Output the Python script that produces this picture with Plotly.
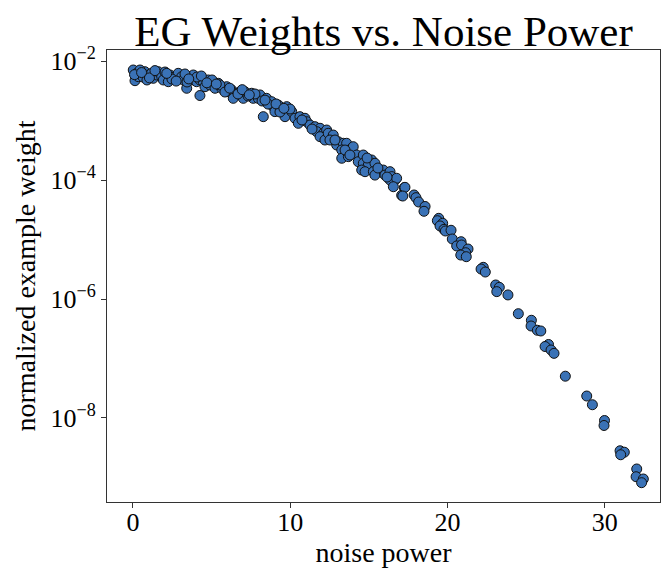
import plotly.graph_objects as go

# noise power (x) and normalized example weight (y)
noise_power = [
    0.02, 0.24, 0.13, 0.34, 0.76, 0.97, 1.19, 1.29, 1.51, 1.61,
    1.83, 1.93, 2.25, 2.35, 2.67, 2.88, 3.10, 3.20, 3.42, 3.63,
    3.73, 3.84, 4.05, 4.26, 4.26, 4.47, 4.58, 4.79, 4.90, 5.22,
    5.43, 5.64, 5.96, 6.06, 6.28, 6.49, 6.38, 6.81, 7.02, 7.12,
    7.55, 7.65, 7.97, 8.08, 8.29, 8.50, 8.82, 8.92, 9.24, 9.03,
    9.46, 9.78, 9.67, 10.10, 10.31, 10.62, 10.52, 10.94, 11.05, 11.26,
    11.58, 11.90, 11.69, 12.11, 12.32, 11.90, 12.21, 12.42, 12.74, 12.53,
    13.06, 12.96, 13.38, 13.59, 13.28, 13.91, 14.01, 13.28, 13.70, 14.23,
    14.33, 14.65, 14.65, 15.18, 14.97, 15.39, 14.55, 14.76, 15.29, 15.71,
    15.92, 15.39, 16.03, 16.35, 16.46, 16.67, 16.35, 16.77, 16.56, 17.26,
    17.09, 17.30, 17.16, 17.88, 18.00, 18.17, 18.58, 18.51, 19.45, 19.36,
    19.70, 19.53, 19.78, 19.87, 20.23, 20.31, 20.87, 20.59, 20.90, 21.31,
    21.16, 20.85, 21.20, 22.28, 22.14, 22.41, 23.07, 23.30, 23.14, 23.85,
    24.51, 25.34, 25.32, 25.72, 25.94, 26.43, 26.21, 26.59, 26.78, 27.50,
    28.86, 29.22, 29.99, 29.96, 30.98, 31.25, 31.02, 32.04, 32.00, 32.46,
    32.35,
    0.45, 0.64, 0.89, 2.04, 2.48, 3.31, 3.44, 4.07, 5.03, 5.53,
    5.85, 6.68, 7.32, 7.76, 8.21, 8.59, 9.35, 9.99, 10.75, 11.39,
    12.85, 13.49, 14.89, 15.58, 16.16, 13.80,
    0.10, 0.55, 1.05, 1.40, 2.15, 2.75, 3.55, 4.35, 4.70, 5.30,
    6.15, 6.95, 7.40, 8.40, 9.10, 9.60,
]

example_weight = [
    7.06e-3, 6.21e-3, 4.67e-3, 5.45e-3, 6.61e-3, 5.82e-3, 6.21e-3, 5.12e-3, 5.82e-3, 6.61e-3,
    5.45e-3, 4.80e-3, 4.49e-3, 5.82e-3, 5.45e-3, 6.21e-3, 5.45e-3, 4.80e-3, 3.48e-3, 5.45e-3,
    4.80e-3, 5.82e-3, 4.49e-3, 4.80e-3, 2.63e-3, 4.49e-3, 3.70e-3, 4.80e-3, 3.95e-3, 3.48e-3,
    4.22e-3, 3.48e-3, 3.70e-3, 3.05e-3, 3.26e-3, 2.87e-3, 2.36e-3, 3.05e-3, 2.36e-3, 3.05e-3,
    2.87e-3, 2.36e-3, 2.36e-3, 2.69e-3, 1.16e-3, 2.36e-3, 2.07e-3, 1.71e-3, 1.82e-3, 1.41e-3,
    1.50e-3, 1.71e-3, 1.16e-3, 1.41e-3, 1.09e-3, 1.16e-3, 8.97e-4, 1.09e-3, 9.55e-4, 8.40e-4,
    7.87e-4, 7.40e-4, 6.49e-4, 6.10e-4, 6.92e-4, 5.35e-4, 4.70e-4, 6.10e-4, 5.70e-4, 4.70e-4,
    4.40e-4, 3.87e-4, 4.14e-4, 4.14e-4, 3.19e-4, 3.41e-4, 3.63e-4, 2.32e-4, 2.47e-4, 2.63e-4,
    2.03e-4, 2.63e-4, 1.91e-4, 2.17e-4, 1.79e-4, 1.91e-4, 1.47e-4, 1.38e-4, 1.38e-4, 1.47e-4,
    1.47e-4, 1.21e-4, 1.21e-4, 1.38e-4, 1.14e-4, 1.00e-4, 1.00e-4, 1.07e-4, 7.71e-5, 7.43e-5,
    5.53e-5, 7.53e-5, 5.38e-5, 5.60e-5, 5.05e-5, 4.27e-5, 3.59e-5, 2.98e-5, 2.27e-5, 2.07e-5,
    1.87e-5, 1.69e-5, 1.48e-5, 1.39e-5, 1.43e-5, 1.02e-5, 9.18e-6, 7.78e-6, 8.09e-6, 6.92e-6,
    6.00e-6, 5.48e-6, 5.14e-6, 3.41e-6, 3.19e-6, 2.84e-6, 1.72e-6, 1.57e-6, 1.33e-6, 1.17e-6,
    5.66e-7, 4.39e-7, 3.52e-7, 2.98e-7, 2.90e-7, 1.72e-7, 1.59e-7, 1.39e-7, 1.22e-7, 5.04e-8,
    2.34e-8, 1.67e-8, 9.07e-9, 7.48e-9, 2.81e-9, 2.66e-9, 2.41e-9, 1.39e-9, 1.03e-9, 9.44e-10,
    8.18e-10,
    7.06e-3, 5.38e-3, 4.80e-3, 6.53e-3, 4.98e-3, 6.05e-3, 4.44e-3, 5.38e-3, 4.80e-3, 3.95e-3,
    3.01e-3, 2.79e-3, 2.58e-3, 2.79e-3, 2.13e-3, 1.89e-3, 1.39e-3, 1.56e-3, 1.02e-3, 7.19e-4,
    4.70e-4, 3.19e-4, 2.34e-4, 1.59e-4, 1.12e-4, 2.63e-4,
    5.90e-3, 6.40e-3, 5.20e-3, 6.90e-3, 6.20e-3, 4.60e-3, 5.00e-3, 5.60e-3, 4.30e-3, 4.10e-3,
    3.50e-3, 3.30e-3, 2.70e-3, 2.20e-3, 1.90e-3, 1.60e-3,
]

x_tick_vals = [0, 10, 20, 30]
y_tick_vals = [1e-2, 1e-4, 1e-6, 1e-8]
y_tick_text = ["10<sup>−2</sup>", "10<sup>−4</sup>", "10<sup>−6</sup>", "10<sup>−8</sup>"]

FONT = "Liberation Serif"
AX = "#333333"

fig = go.Figure(
    go.Scatter(
        x=noise_power,
        y=example_weight,
        mode="markers",
        marker=dict(size=10, color="#3a72b6", line=dict(color="#111111", width=1)),
        showlegend=False,
    )
)

fig.update_layout(
    width=662,
    height=573,
    margin=dict(l=107, r=2, t=50, b=71),
    paper_bgcolor="white",
    plot_bgcolor="white",
    font=dict(family=FONT, color="black", size=26),
    title=dict(
        text="EG Weights vs. Noise Power",
        font=dict(family=FONT, size=43, color="black"),
        x=0.5,
        xref="paper",
        xanchor="center",
        y=1 - 31 / 573,
        yref="container",
        yanchor="middle",
    ),
)

fig.update_xaxes(
    range=[-1.65, 33.52],
    tickvals=x_tick_vals,
    ticks="outside",
    ticklen=5,
    tickcolor=AX,
    ticklabelstandoff=-8,
    showgrid=False,
    zeroline=False,
    showline=True,
    linecolor=AX,
    linewidth=1,
    mirror=True,
    tickfont=dict(family=FONT, size=26),
    title=dict(text="noise power", font=dict(family=FONT, size=28), standoff=4),
)

fig.update_yaxes(
    type="log",
    range=[-9.412, -1.815],
    tickvals=y_tick_vals,
    ticktext=y_tick_text,
    ticks="outside",
    ticklen=5,
    tickcolor=AX,
    showgrid=False,
    zeroline=False,
    showline=True,
    linecolor=AX,
    linewidth=1,
    mirror=True,
    tickfont=dict(family=FONT, size=26),
    title=dict(text="normalized example weight", font=dict(family=FONT, size=28), standoff=6),
)

fig.write_html("out.html")
